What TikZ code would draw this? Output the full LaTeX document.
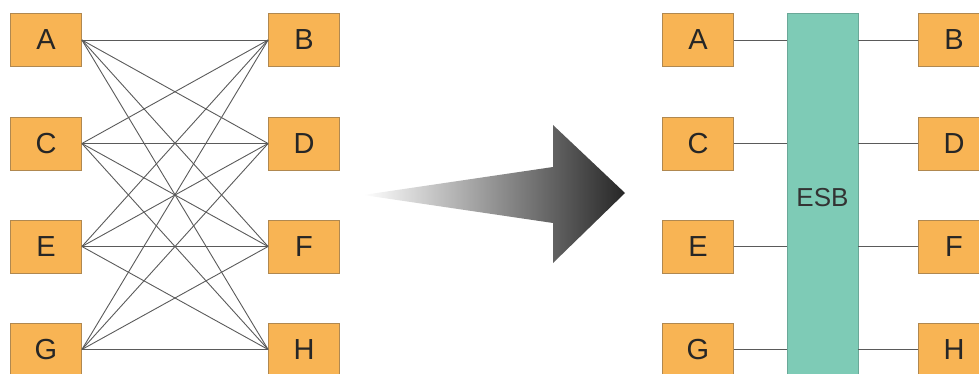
\documentclass[tikz,border=0pt]{standalone}
\usepackage{fontspec}
\setmainfont{Liberation Sans}
\usetikzlibrary{positioning}
\definecolor{boxfill}{HTML}{F8B454}
\definecolor{boxline}{HTML}{B08850}
\definecolor{esbfill}{HTML}{7ECBB6}
\definecolor{esbline}{HTML}{6AA898}
\definecolor{wire}{HTML}{5A5A5A}
\begin{document}
\begin{tikzpicture}[x=1pt,y=-1pt,
  sysbox/.style={draw=boxline,fill=boxfill,line width=0.8pt,minimum width=71pt,minimum height=53pt,inner sep=0pt,font=\fontsize{29}{29}\selectfont,text=black!85},
  wire/.style={draw=wire,line width=0.9pt}]
\useasboundingbox (0,0) rectangle (979,374);
\begin{scope}
\clip (0,0) rectangle (979,374);
% left panel
\node[sysbox] (A) at (46,40) {A};
\node[sysbox] (C) at (46,143.5) {C};
\node[sysbox] (E) at (46,246.5) {E};
\node[sysbox] (G) at (46,349.5) {G};
\node[sysbox] (B) at (304,40) {B};
\node[sysbox] (D) at (304,143.5) {D};
\node[sysbox] (F) at (304,246.5) {F};
\node[sysbox] (H) at (304,349.5) {H};
\foreach \l in {A,C,E,G}{
  \foreach \r in {B,D,F,H}{
    \draw[wire] (\l.east) -- (\r.west);
  }
}
% arrow
\path[left color=white,right color=black!85]
  (363,195) -- (553,167) -- (553,125) -- (625,193) -- (553,263) -- (553,223) -- cycle;
% right panel
\node[draw=esbline,fill=esbfill,line width=0.8pt,minimum width=71pt,minimum height=380pt,inner sep=0pt,anchor=north] (ESB) at (822.5,13) {};
\node[font=\fontsize{26}{26}\selectfont,text=black!80] (esbtext) at (822.5,198) {ESB};
\node[sysbox] (A2) at (698,40) {A};
\node[sysbox] (C2) at (698,143.5) {C};
\node[sysbox] (E2) at (698,246.5) {E};
\node[sysbox] (G2) at (698,349.5) {G};
\node[sysbox] (B2) at (954,40) {B};
\node[sysbox] (D2) at (954,143.5) {D};
\node[sysbox] (F2) at (954,246.5) {F};
\node[sysbox] (H2) at (954,349.5) {H};
\foreach \l in {A2,C2,E2,G2}{
  \draw[wire] (\l.east) -- (\l.east -| ESB.west);
}
\foreach \r in {B2,D2,F2,H2}{
  \draw[wire] (\r.west) -- (\r.west -| ESB.east);
}
\end{scope}
\end{tikzpicture}
\end{document}
